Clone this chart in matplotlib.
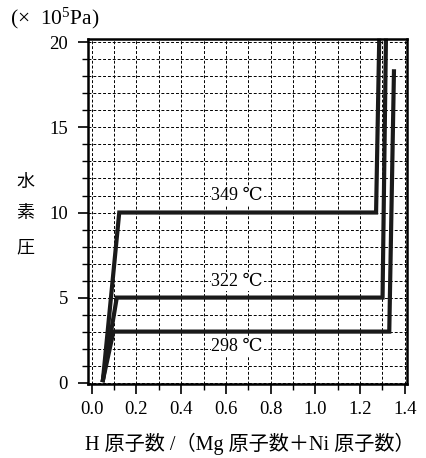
import matplotlib
matplotlib.use("Agg")
import matplotlib.pyplot as plt
from matplotlib.ticker import MultipleLocator

plt.rcParams['mathtext.fontset'] = 'custom'
plt.rcParams['mathtext.rm'] = 'Liberation Serif'
plt.rcParams['mathtext.it'] = 'Liberation Serif:italic'

SERIF = ['Liberation Serif', 'DejaVu Serif', 'Noto Sans CJK JP']
CJK = ['Noto Sans CJK JP', 'Liberation Serif', 'DejaVu Serif']

# curve data (H/(Mg+Ni), pressure x1e5 Pa)
x_349 = [0.05, 0.123, 1.272, 1.286]
y_349 = [0.15, 10.0, 10.0, 20.1]
x_322 = [0.05, 0.112, 1.301, 1.316]
y_322 = [0.15, 5.0, 5.0, 20.1]
x_298 = [0.05, 0.097, 1.331, 1.352]
y_298 = [0.15, 3.0, 3.0, 18.3]

labels = ["349 ℃", "322 ℃", "298 ℃"]
label_x = [0.65, 0.65, 0.65]
label_y = [10.98, 5.95, 2.1]

xticks = [0.0, 0.2, 0.4, 0.6, 0.8, 1.0, 1.2, 1.4]
xticklabels = ["0.0", "0.2", "0.4", "0.6", "0.8", "1.0", "1.2", "1.4"]
yticks = [0, 5, 10, 15, 20]

fig = plt.figure(figsize=(4.26, 4.58), dpi=100)
ax = fig.add_axes([87.5/426, 1-384/458, (406.7-87.5)/426, (384-39)/458])

ax.set_xlim(-0.019, 1.409)
ax.set_ylim(-0.08, 20.2)

ax.xaxis.set_minor_locator(MultipleLocator(0.1))
ax.yaxis.set_minor_locator(MultipleLocator(1))
ax.set_xticks(xticks)
ax.set_xticklabels(xticklabels, fontfamily=SERIF, fontsize=13.5)
ax.set_yticks(yticks)
ax.set_yticklabels([str(v) for v in yticks], fontfamily=SERIF, fontsize=13.5)

ax.grid(True, which='both', color='black', linestyle=(0, (3, 2)), linewidth=0.7)
ax.set_axisbelow(True)

ax.tick_params(which='major', direction='out', length=7, width=1.2, color='black')
ax.tick_params(axis='y', which='major', pad=7)
ax.tick_params(axis='x', which='major', pad=5)
ax.tick_params(which='minor', direction='out', length=4, width=1.0, color='black')

for s in ax.spines.values():
    s.set_linewidth(1.8)
    s.set_color('black')

for xs, ys in [(x_349, y_349), (x_322, y_322), (x_298, y_298)]:
    ax.plot(xs, ys, color='#1a1a1a', linewidth=3.0, solid_joinstyle='miter', clip_on=False)

for t, lx, ly in zip(labels, label_x, label_y):
    ax.text(lx, ly, t, ha='center', va='center', fontsize=13, fontfamily=SERIF,
            bbox=dict(facecolor='white', edgecolor='none', pad=0.5))

fig.text(10/426, 1-18/458, r"(×  10$^{5}$Pa)", ha='left', va='center', fontsize=15.5, fontfamily=SERIF)

for ch, py in zip(["水", "素", "圧"], [182, 213, 247]):
    fig.text(25/426, 1-py/458, ch, ha='center', va='center', fontsize=13, fontfamily=CJK)

fig.text(250/426, 1-444/458, "H 原子数 /（Mg 原子数＋Ni 原子数）", ha='center', va='center',
         fontsize=14.5, fontfamily=SERIF)

fig.savefig("out.png", dpi=100)
